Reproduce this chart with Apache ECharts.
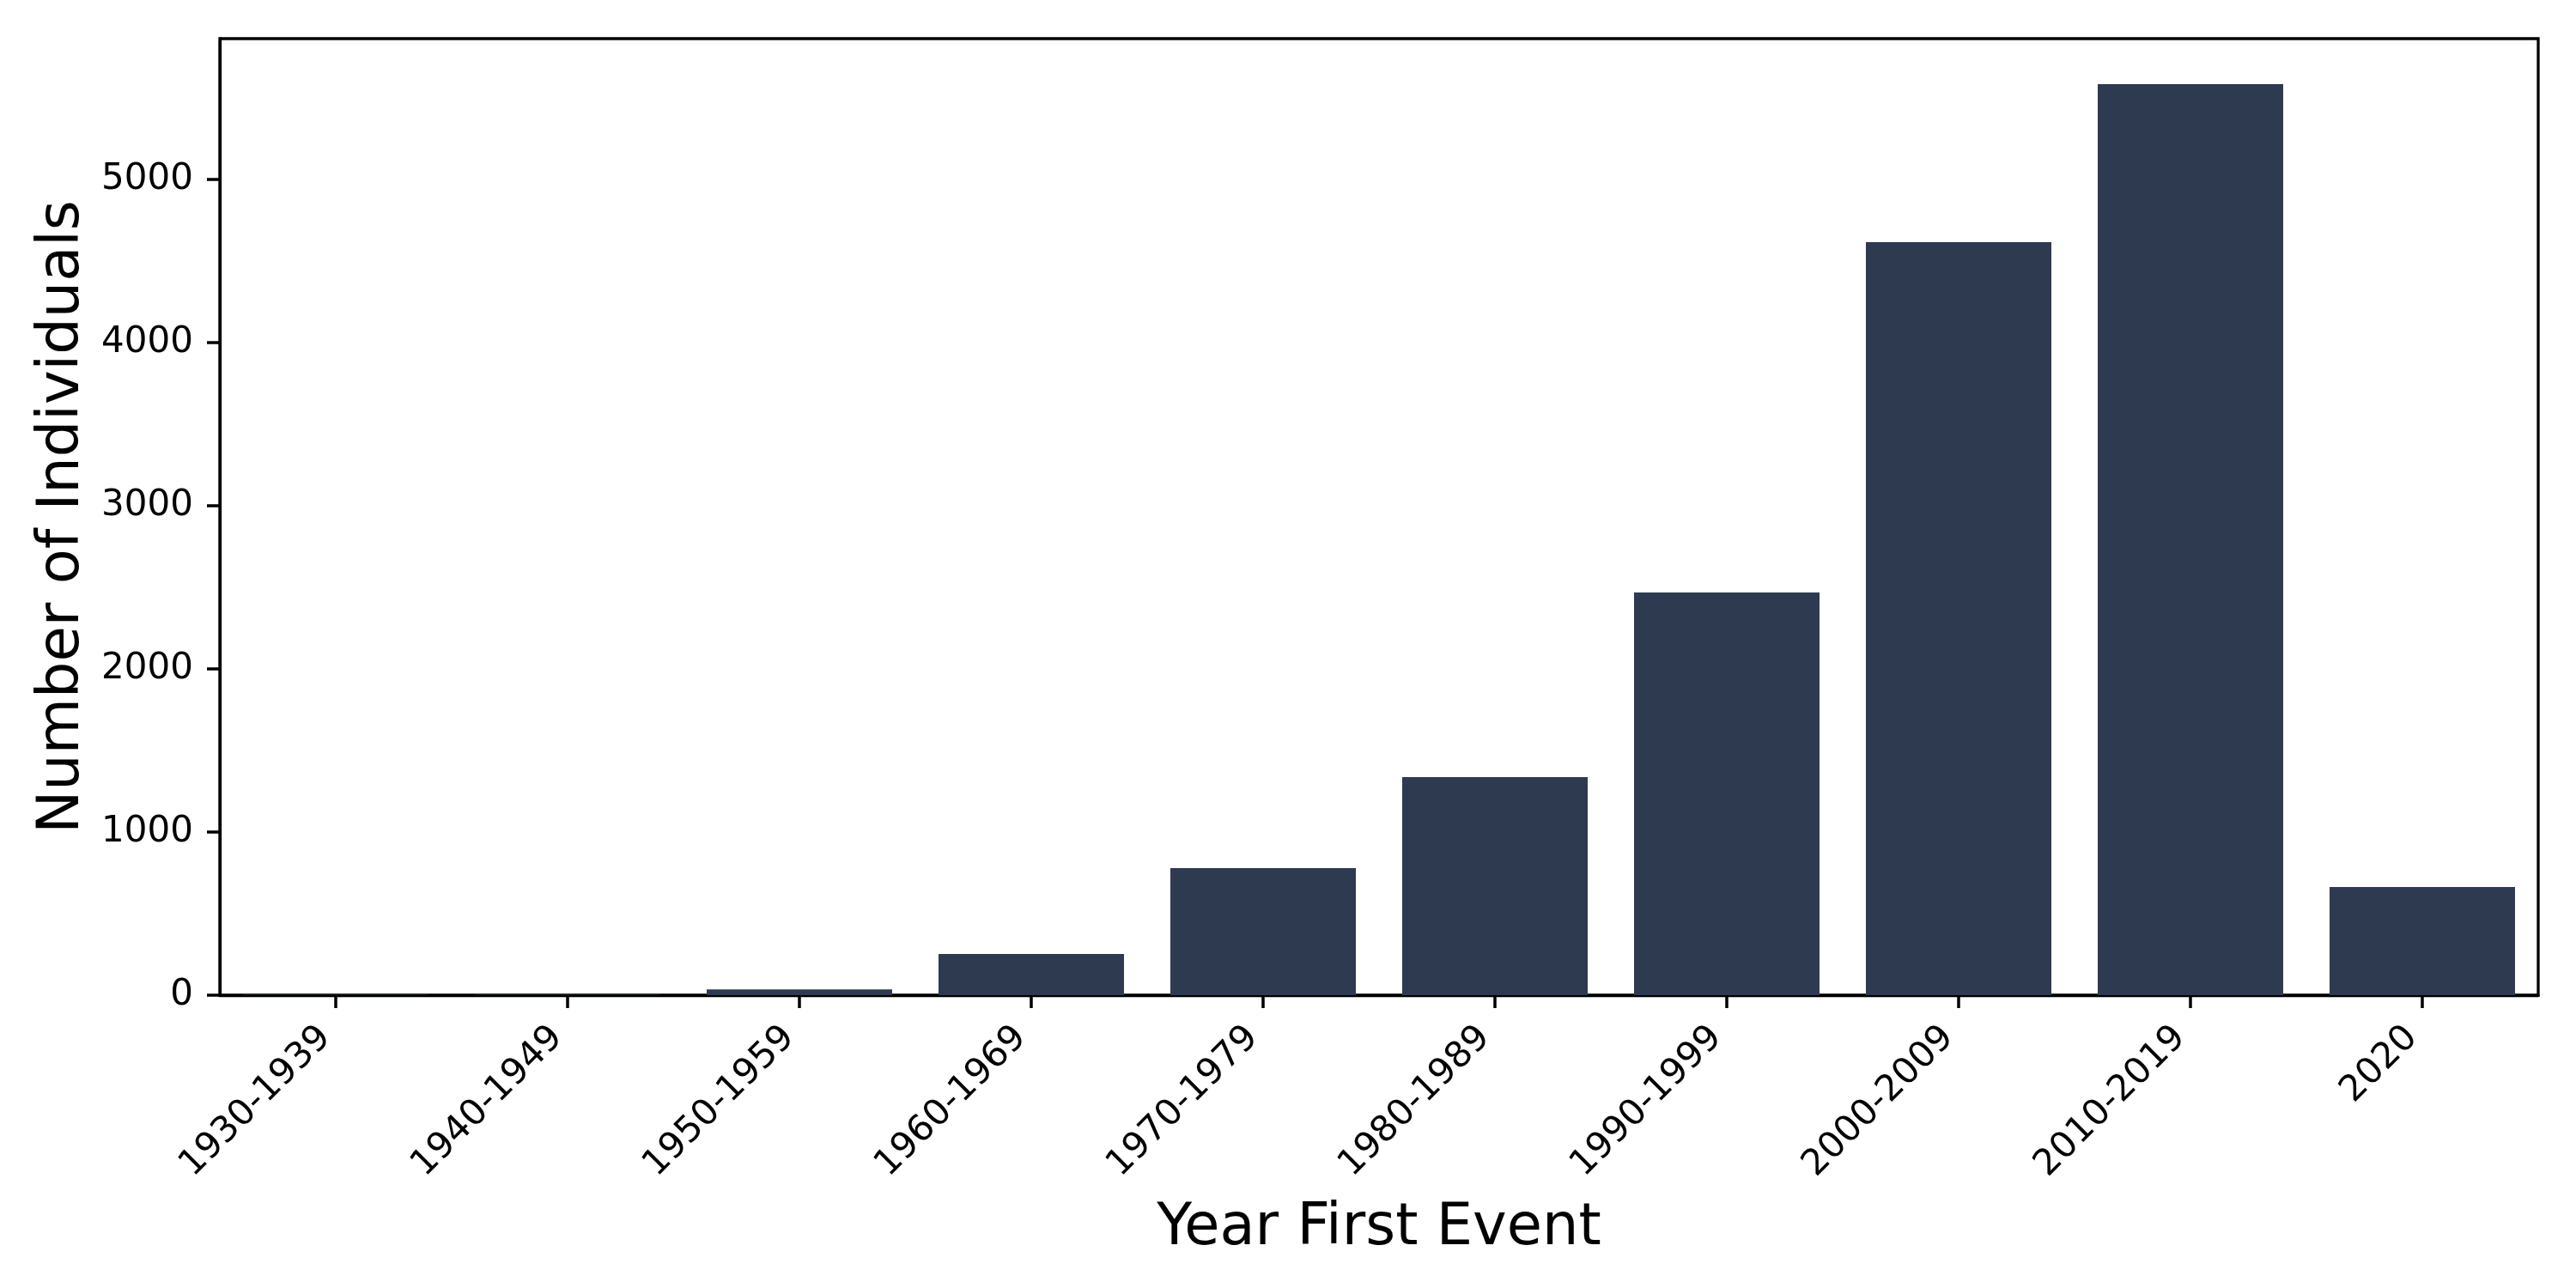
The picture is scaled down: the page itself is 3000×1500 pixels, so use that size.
<!DOCTYPE html>
<html>
<head>
<meta charset="utf-8">
<title>Year First Event</title>
<script src="https://cdn.jsdelivr.net/npm/echarts@6/dist/echarts.min.js"></script>
<style>
	html, body { margin: 0; padding: 0; background: #fff; }
	#chart { width: 3000px; height: 1500px; }
</style>
</head>
<body>
<div id="chart"></div>
<script>
// decades of the first event
var categories = ['1930-1939', '1940-1949', '1950-1959', '1960-1969', '1970-1979',
	'1980-1989', '1990-1999', '2000-2009', '2010-2019', '2020'];
// number of individuals per decade
var counts = [2, 3, 35, 252, 779, 1337, 2468, 4616, 5584, 663];
// y tick labels
var yTicks = [0, 1000, 2000, 3000, 4000, 5000];
var yMax = 5863;

var myChart = echarts.init(document.getElementById('chart'));

var option = {
	backgroundColor: '#ffffff',
	animation: false,
	textStyle: { fontFamily: 'DejaVu Sans' },
	grid: {
		left: 256, right: 44, top: 45, bottom: 341,
		show: true, borderColor: '#000', borderWidth: 3.3,
		backgroundColor: 'transparent'
	},
	xAxis: {
		type: 'category',
		data: categories,
		name: 'Year First Event',
		nameLocation: 'middle',
		nameGap: 239,
		nameTextStyle: { fontSize: 67, color: '#000', fontFamily: 'DejaVu Sans' },
		axisLine: { lineStyle: { color: '#000', width: 3.3 } },
		axisTick: { show: true, alignWithLabel: true, length: 15, lineStyle: { color: '#000', width: 3.5 } },
		axisLabel: {
			rotate: 45, fontSize: 42, color: '#000', margin: 31,
			padding: [0, 17, 0, 0],
			interval: 0, fontFamily: 'DejaVu Sans'
		},
		splitLine: { show: false }
	},
	yAxis: {
		type: 'value',
		min: 0,
		max: yMax,
		name: 'Number of Individuals',
		nameLocation: 'middle',
		nameGap: 133,
		nameTextStyle: { fontSize: 67, color: '#000', fontFamily: 'DejaVu Sans' },
		axisLine: { show: true, lineStyle: { color: '#000', width: 3.3 } },
		axisTick: { show: true, length: 15, customValues: yTicks, lineStyle: { color: '#000', width: 3.5 } },
		axisLabel: {
			fontSize: 42, color: '#000', margin: 31, customValues: yTicks,
			fontFamily: 'DejaVu Sans',
			formatter: function (v) { return String(v); }
		},
		splitLine: { show: false }
	},
	series: [
		{
			type: 'bar',
			data: counts,
			barCategoryGap: '20%',
			itemStyle: { color: '#2E3A50' }
		}
	]
};

myChart.setOption(option);
</script>
</body>
</html>
